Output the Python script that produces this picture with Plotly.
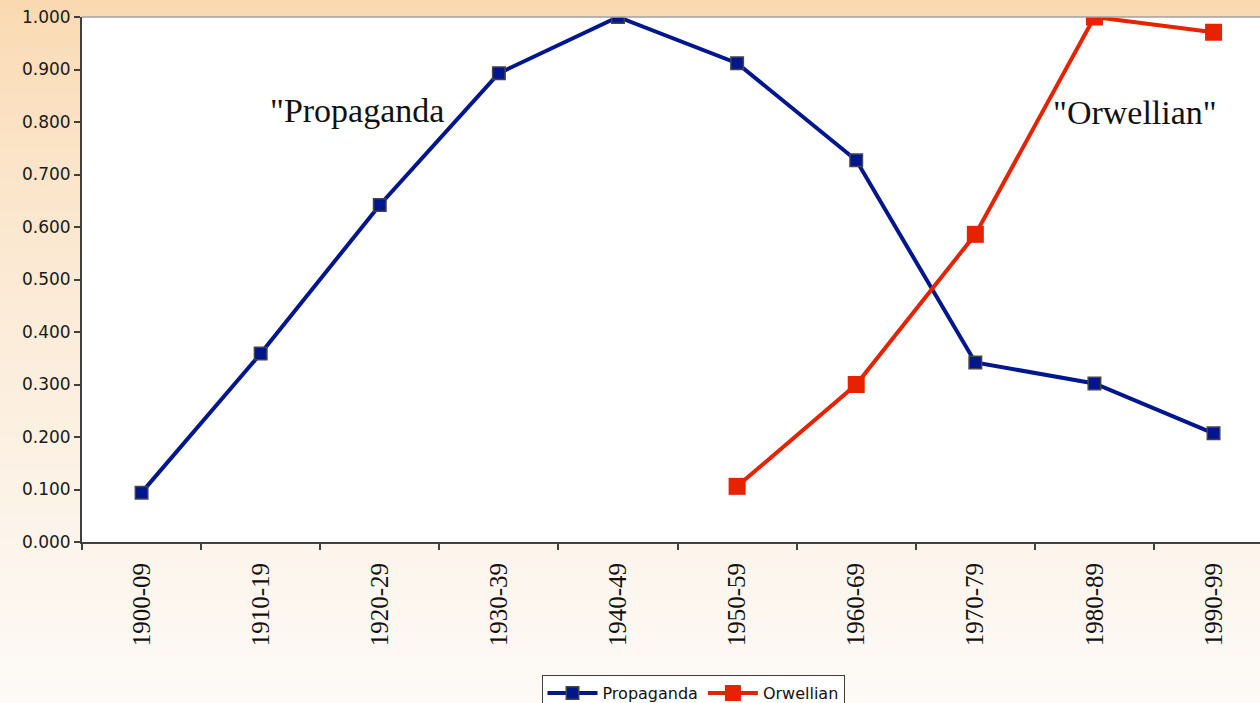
import plotly.graph_objects as go

decades = ["1900-09", "1910-19", "1920-29", "1930-39", "1940-49",
           "1950-59", "1960-69", "1970-79", "1980-89", "1990-99"]
propaganda = [0.094, 0.359, 0.642, 0.893, 1.000, 0.912, 0.727, 0.342, 0.302, 0.207]
orwellian = [None, None, None, None, None, 0.106, 0.300, 0.586, 1.000, 0.971]
y_ticks = [0.0, 0.1, 0.2, 0.3, 0.4, 0.5, 0.6, 0.7, 0.8, 0.9, 1.0]

W, H = 1260, 703
ML, MT, MB = 82, 17, 161
PW, PH = W - ML, H - MT - MB

fig = go.Figure()
fig.add_trace(go.Scatter(
    x=decades, y=propaganda, name="Propaganda", mode="lines+markers",
    line=dict(color="#00168f", width=4),
    marker=dict(symbol="square", size=12.5, color="#00168f",
                line=dict(color="#454545", width=1.5)),
))
fig.add_trace(go.Scatter(
    x=decades, y=orwellian, name="Orwellian", mode="lines+markers",
    connectgaps=False,
    line=dict(color="#e62200", width=4),
    marker=dict(symbol="square", size=17, color="#e62200",
                line=dict(color="#e62200", width=0)),
))

# background gradient (peach at top to near-white at bottom)
shapes = []
top = (250, 216, 174)
bot = (253, 250, 247)
N = 90
y_top = 1 + MT / PH
y_bot = -MB / PH
x_left = -ML / PW
for i in range(N):
    t0 = i / N
    t1 = (i + 1) / N
    tc = (t0 + t1) / 2
    f = tc ** 0.7
    c = tuple(round(top[k] + (bot[k] - top[k]) * f) for k in range(3))
    ya = y_top + (y_bot - y_top) * t0
    yb = y_top + (y_bot - y_top) * t1
    shapes.append(dict(type="rect", xref="paper", yref="paper",
                       x0=x_left, x1=1.01, y0=yb - 0.002, y1=ya,
                       fillcolor="rgb(%d,%d,%d)" % c, line=dict(width=0),
                       layer="below"))
shapes.append(dict(type="rect", xref="paper", yref="paper", x0=0, x1=1.01,
                   y0=0, y1=1, fillcolor="white", line=dict(width=0),
                   layer="below"))
shapes.append(dict(type="line", xref="paper", yref="paper", x0=0, x1=1.01,
                   y0=1, y1=1, line=dict(color="#a0a0a0", width=1.5),
                   layer="above"))

fig.update_layout(
    width=W, height=H,
    margin=dict(l=ML, r=0, t=MT, b=MB, pad=0, autoexpand=False),
    paper_bgcolor="#fdfaf7", plot_bgcolor="white",
    shapes=shapes,
    showlegend=True,
    legend=dict(orientation="h", x=(693 - ML) / PW, xanchor="center",
                y=(MT + PH - 675) / PH, yanchor="top",
                bgcolor="white", bordercolor="#404040", borderwidth=1,
                font=dict(family="DejaVu Sans", size=16, color="#111"),
                itemwidth=50, tracegroupgap=0),
    xaxis=dict(type="category", categoryorder="array", categoryarray=decades,
               range=[-0.5, 9.39], showgrid=False, zeroline=False,
               showline=True, linecolor="#404040", linewidth=2,
               ticks="outside", tickson="boundaries", ticklen=6,
               tickcolor="#404040", tickwidth=1.5, tickangle=-90,
               ticklabelstandoff=9,
               tickfont=dict(family="Liberation Serif", size=25, color="#111"),
               automargin=False),
    yaxis=dict(range=[0, 1.0], tickvals=y_ticks, tickformat=".3f",
               showgrid=False, zeroline=False, showline=True,
               linecolor="#404040", linewidth=2, ticks="outside",
               ticklen=6, tickcolor="#404040", tickwidth=1.5,
               tickfont=dict(family="DejaVu Sans", size=17, color="#1a1a1a"),
               automargin=False),
    annotations=[
        dict(x=1.81, y=0.821, xref="x", yref="y", text="\"Propaganda",
             showarrow=False,
             font=dict(family="Liberation Serif", size=34, color="#111")),
        dict(x=8.34, y=0.819, xref="x", yref="y", text="\"Orwellian\"",
             showarrow=False,
             font=dict(family="Liberation Serif", size=34, color="#111")),
    ],
)

fig.write_html(
    "out.html",
    config={"displayModeBar": False},
    post_script="document.body.style.margin='0';document.body.style.overflow='hidden';",
)
